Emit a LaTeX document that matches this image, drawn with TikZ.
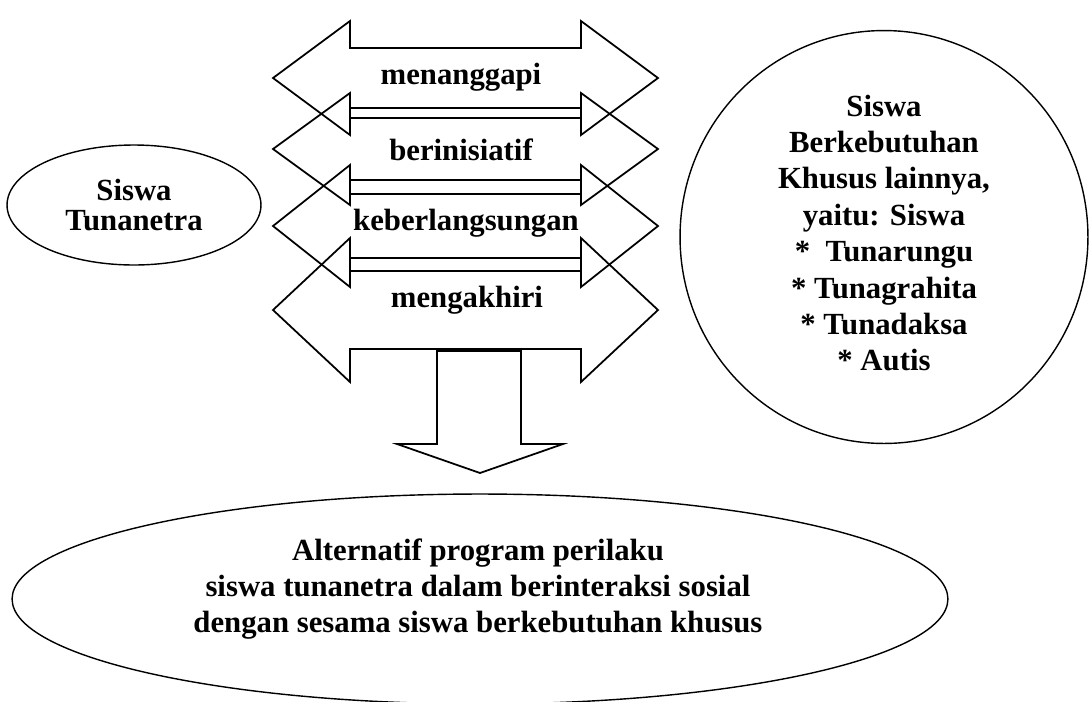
\documentclass[tikz,border=0pt]{standalone}
\usepackage{fontspec}
\setmainfont{Liberation Serif}
\usetikzlibrary{shapes.geometric,positioning}

\begin{document}
\begin{tikzpicture}[x=0.02cm,y=-0.02cm,
        blockline/.style={draw,line width=1pt,line join=miter},
        armlabel/.style={font=\bfseries\fontsize{17.5}{20.7}\selectfont,inner sep=0pt},
        bubble/.style={draw,ellipse,line width=0.8pt,inner sep=0pt,align=center,
                       font=\bfseries\fontsize{17.5}{20.7}\selectfont}]
        \useasboundingbox (0,0) rectangle (1090,701);

        % four overlapping two-way block arrows
        \foreach \yc/\sh/\hh in {78/30/57, 149/31/56, 226/32/61, 310/39/72}
            \draw[blockline] (350,\yc-\sh) -- (350,\yc-\hh) -- (273,\yc)
                -- (350,\yc+\hh) -- (350,\yc+\sh) -- (581,\yc+\sh)
                -- (581,\yc+\hh) -- (658,\yc) -- (581,\yc-\hh)
                -- (581,\yc-\sh) -- cycle;

        \node[armlabel] (respond) at (461,77) {menanggapi};
        \node[armlabel] (initiate) at (461,150) {berinisiatif};
        \node[armlabel] (sustain) at (466,223) {keberlangsungan};
        \node[armlabel] (close) at (467,300) {mengakhiri};

        % side groups
        \node[bubble,minimum width=5.08cm,minimum height=2.4cm,
              font=\bfseries\fontsize{17.5}{17}\selectfont]
              (blind) at (134,205) {Siswa\\Tunanetra};
        \node[bubble,minimum width=8.16cm,minimum height=8.26cm]
              (others) at (884,237) {};
        \node[armlabel,align=center] (otherstext) at (884,233)
              {Siswa\\Berkebutuhan\\Khusus lainnya,\\yaitu: Siswa\\
               *~~Tunarungu\\* Tunagrahita\\* Tunadaksa\\* Autis};

        % result
        \draw[blockline] (437,351) -- (521,351) -- (521,444) -- (563,444)
            -- (480,473) -- (397,444) -- (437,444) -- cycle;
        \node[bubble,minimum width=18.72cm,minimum height=4.2cm]
              (program) at (480,599) {};
        \node[armlabel,align=center] (programtext) at (478,589)
              {Alternatif program perilaku\\
               siswa tunanetra dalam berinteraksi sosial\\
               dengan sesama siswa berkebutuhan khusus};
    \end{tikzpicture}
\end{document}
